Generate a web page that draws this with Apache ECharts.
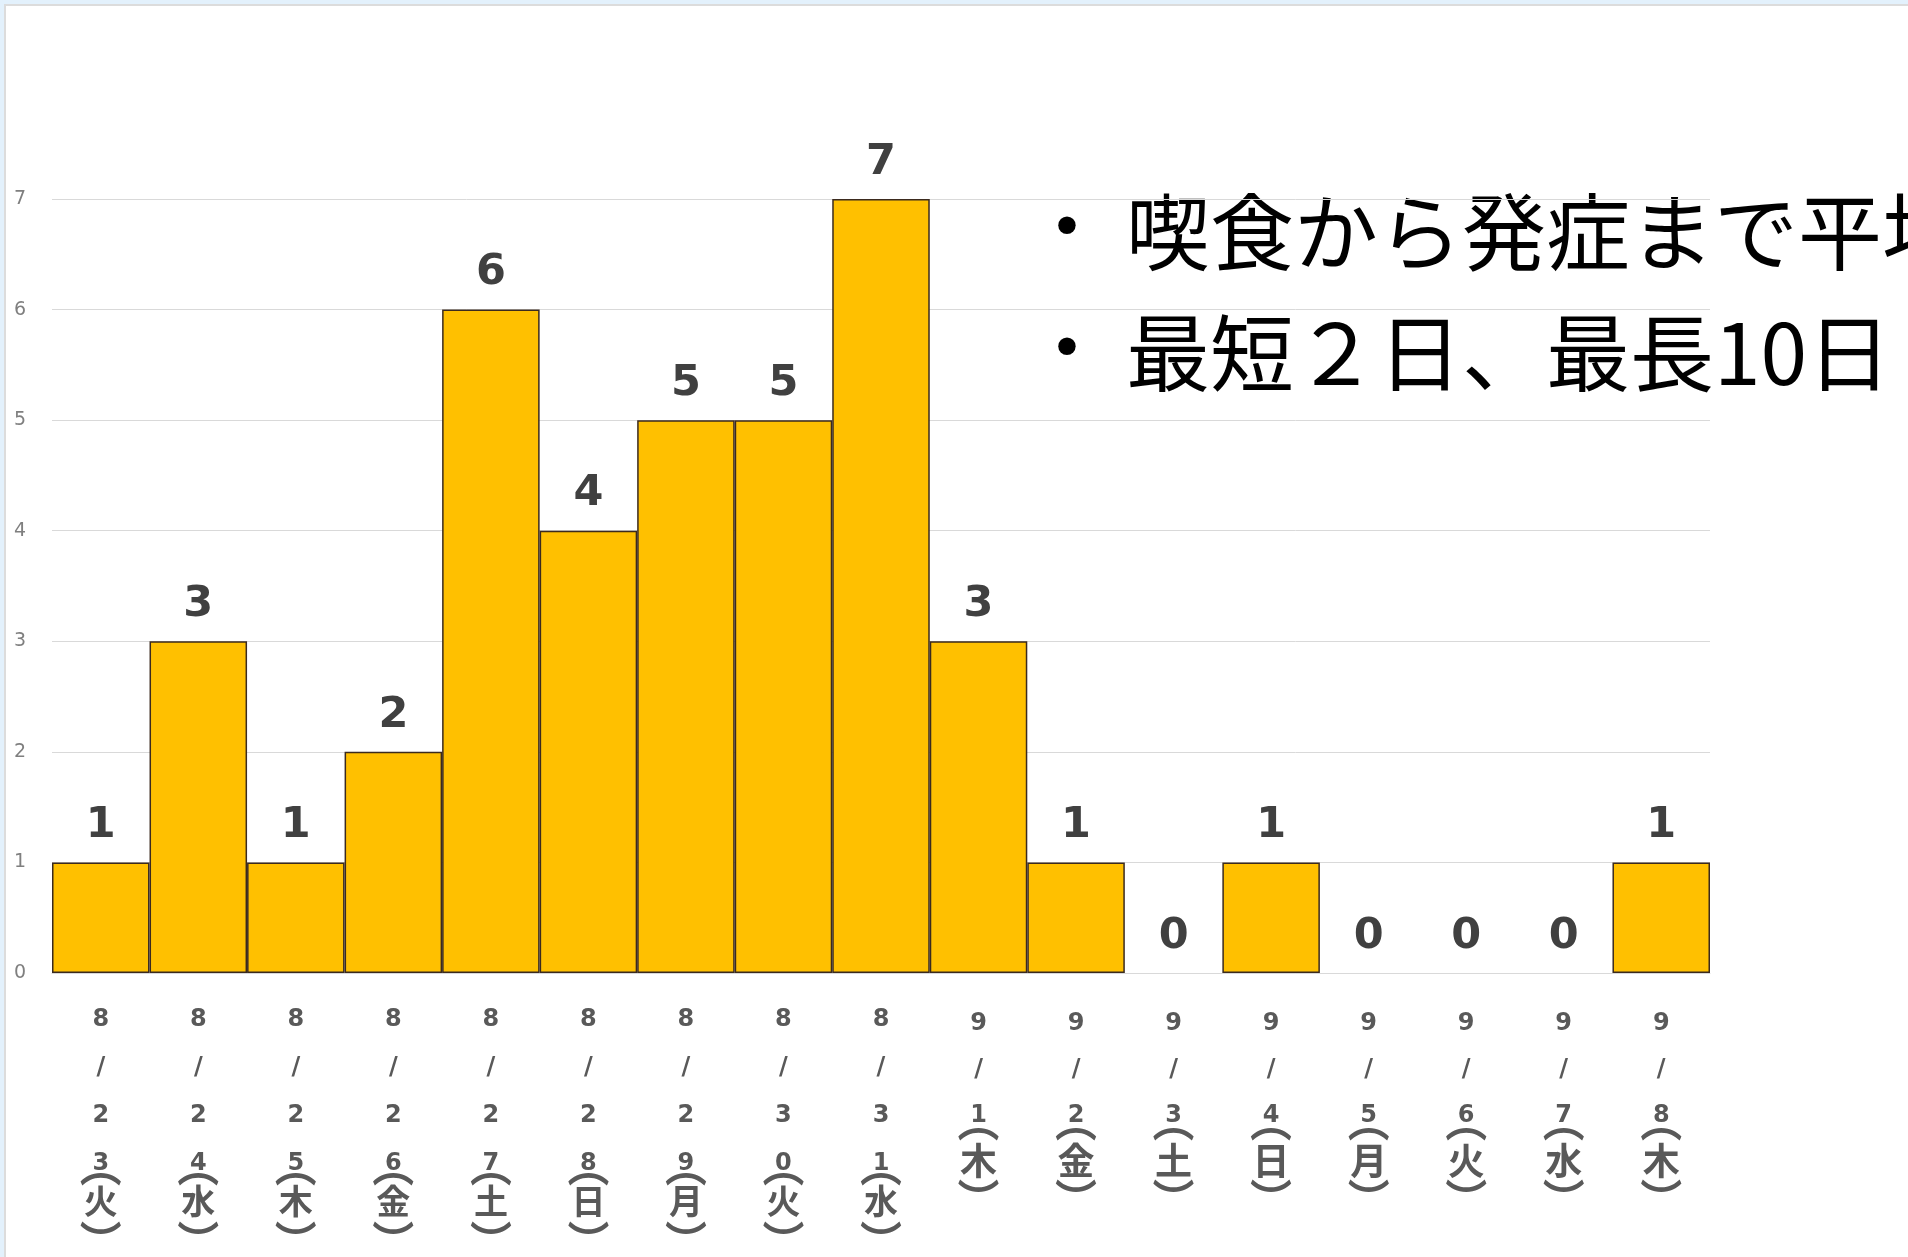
<!DOCTYPE html>
<html>
<head>
<meta charset="utf-8">
<script src="https://cdn.jsdelivr.net/npm/echarts@6/dist/echarts.min.js"></script>
<style>
html,body{margin:0;padding:0;background:#fff;}
#chart{width:1908px;height:1257px;}
</style>
</head>
<body>
<div id="chart"></div>
<script>
const dates = ['8/23','8/24','8/25','8/26','8/27','8/28','8/29','8/30','8/31','9/1','9/2','9/3','9/4','9/5','9/6','9/7','9/8'];
const weekdays = ['火','水','木','金','土','日','月','火','水','木','金','土','日','月','火','水','木'];
const cases = [1,3,1,2,6,4,5,5,7,3,1,0,1,0,0,0,1];
const yTicks = [0,1,2,3,4,5,6,7];
const noteLine1 = '喫食から発症まで平均';
const noteLine2 = '最短２日、最長10日';

const chart = echarts.init(document.getElementById('chart'));

// measure glyph ink offset from the 'middle' baseline so tokens can be placed by ink centre
const mctx = document.createElement('canvas').getContext('2d');
function inkOffset(font, ch) {
  mctx.font = font;
  mctx.textBaseline = 'middle';
  const m = mctx.measureText(ch);
  return (m.actualBoundingBoxDescent - m.actualBoundingBoxAscent) / 2;
}
function tok(fontSize, weight, family, lineHeight, ch, dy) {
  const off = inkOffset(weight + ' ' + fontSize + 'px ' + family, ch);
  const shift = dy - off;
  const pad = shift > 0 ? [2 * shift, 0, 0, 0] : [0, 0, -2 * shift, 0];
  return {fontSize: fontSize, fontWeight: weight, fontFamily: family, lineHeight: lineHeight, padding: pad, color: '#595959'};
}
const NUM = 'DejaVu Sans';
const CJK = 'Noto Sans CJK JP';

function xLabel(value, idx) {
  const d = dates[idx];
  const s = d.length > 3 ? 'L' : 'S';
  const body = d.split('').map(c => '{n' + s + '|' + c + '}').join('\n');
  return body + '\n{p' + s + '|︵}\n{d' + s + '|' + weekdays[idx] + '}\n{q' + s + '|︶}';
}

const richStyles = {
  nL: tok(24, 'bold', NUM, 48, '8', 0),
  pL: tok(42, 'bold', CJK, 2, '︵', -7),
  dL: tok(34, 'bold', CJK, 26, '金', 0),
  qL: tok(42, 'bold', CJK, 26, '︶', 1),
  nS: tok(24, 'bold', NUM, 46, '8', 5),
  pS: tok(42, 'bold', CJK, 2, '︵', 2),
  dS: tok(37, 'bold', CJK, 52, '金', 0),
  qS: tok(42, 'bold', CJK, 10, '︶', -5)
};

chart.setOption({
  animation: false,
  backgroundColor: '#ffffff',
  grid: {left: 52, right: 198, top: 199, bottom: 284, containLabel: false, outerBoundsMode: 'none'},
  xAxis: {
    type: 'category',
    data: dates,
    axisLine: {show: true, lineStyle: {color: '#d9d9d9', width: 1}},
    axisTick: {show: false},
    axisLabel: {
      interval: 0,
      margin: 20,
      verticalAlign: 'top',
      formatter: xLabel,
      rich: richStyles
    }
  },
  yAxis: {
    type: 'value',
    min: yTicks[0],
    max: yTicks[yTicks.length - 1],
    interval: 1,
    axisLine: {show: false},
    axisTick: {show: false},
    splitLine: {show: true, lineStyle: {color: '#d9d9d9', width: 1}},
    axisLabel: {margin: 26, fontSize: 19, fontFamily: 'DejaVu Sans', color: '#7f7f7f'}
  },
  series: [{
    type: 'bar',
    barCategoryGap: '0%',
    data: cases.map(v => ({value: v, itemStyle: v === 0 ? {borderWidth: 0} : undefined})),
    itemStyle: {color: '#FFC000', borderColor: '#3b2a1e', borderWidth: 1.5},
    label: {
      show: true,
      position: 'top',
      distance: 15,
      fontSize: 43,
      fontWeight: 'bold',
      fontFamily: 'DejaVu Sans',
      color: '#404040'
    }
  }],
  graphic: [
    {type: 'rect', left: 0, top: 0, shape: {width: 1908, height: 4}, style: {fill: '#e3f1fc'}, silent: true},
    {type: 'rect', left: 0, top: 0, shape: {width: 4, height: 1257}, style: {fill: '#e3f1fc'}, silent: true},
    {type: 'rect', left: 4, top: 4, shape: {width: 1904, height: 2}, style: {fill: '#dcdcdc'}, silent: true},
    {type: 'rect', left: 4, top: 4, shape: {width: 2, height: 1253}, style: {fill: '#dcdcdc'}, silent: true},
    {type: 'text', x: 1067, y: 232, style: {text: '•', font: '60px "DejaVu Sans"', fill: '#000', align: 'center', verticalAlign: 'middle'}},
    {type: 'text', x: 1067, y: 353, style: {text: '•', font: '60px "DejaVu Sans"', fill: '#000', align: 'center', verticalAlign: 'middle'}},
    {type: 'text', x: 1126, y: 232, style: {text: noteLine1, font: '84px "Noto Sans CJK JP"', fill: '#000', align: 'left', verticalAlign: 'middle'}},
    {type: 'text', x: 1126, y: 353, style: {text: noteLine2, font: '84px "Noto Sans CJK JP"', fill: '#000', align: 'left', verticalAlign: 'middle'}}
  ]
});
</script>
</body>
</html>
